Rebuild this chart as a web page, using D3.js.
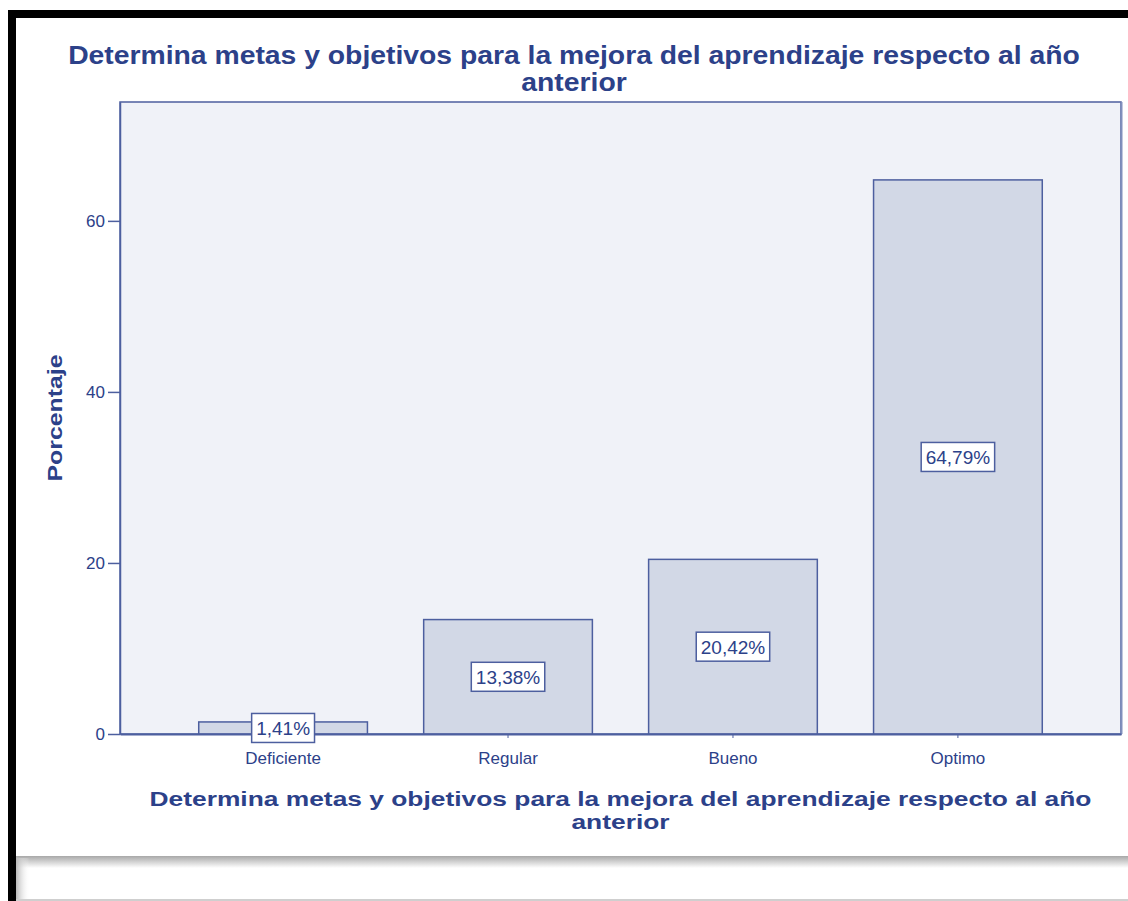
<!DOCTYPE html>
<html lang="es">
<head>
<meta charset="UTF-8">
<title>Determina metas y objetivos</title>
<script src="https://d3js.org/d3.v7.min.js"></script>
<style>
  body { margin: 0; background: #fff; }
  text { font-family: "Liberation Sans", Arial, sans-serif; }
</style>
</head>
<body>
<svg id="chart" width="1128" height="901"></svg>
<script>
  // data
  const categories = ["Deficiente", "Regular", "Bueno", "Optimo"];
  const percents = [1.41, 13.38, 20.42, 64.79];
  const yTicks = [0, 20, 40, 60];
  const titleLines = ["Determina metas y objetivos para la mejora del aprendizaje respecto al año", "anterior"];
  const yTitle = "Porcentaje";

  const svg = d3.select("#chart");
  const blue = "#2c4189";
  const lineBlue = "#4d5f9f";

  // frame: black border top/left, shadow at bottom
  const defs = svg.append("defs");
  const grad = defs.append("linearGradient").attr("id", "shadow")
    .attr("x1", 0).attr("y1", 0).attr("x2", 0).attr("y2", 1);
  grad.append("stop").attr("offset", "0%").attr("stop-color", "#a8a8a8");
  grad.append("stop").attr("offset", "100%").attr("stop-color", "#ffffff");
  const gradL = defs.append("linearGradient").attr("id", "shadowL")
    .attr("x1", 0).attr("y1", 0).attr("x2", 1).attr("y2", 0);
  gradL.append("stop").attr("offset", "0%").attr("stop-color", "#b8b8b8");
  gradL.append("stop").attr("offset", "100%").attr("stop-color", "#ffffff").attr("stop-opacity", 0);

  svg.append("rect").attr("x", 16).attr("y", 856).attr("width", 1112).attr("height", 12)
    .attr("fill", "url(#shadow)");
  svg.append("rect").attr("x", 16).attr("y", 858).attr("width", 14).attr("height", 43)
    .attr("fill", "url(#shadowL)");
  svg.append("rect").attr("x", 16).attr("y", 899).attr("width", 1112).attr("height", 2)
    .attr("fill", "#cfcfcf");
  svg.append("rect").attr("x", 8).attr("y", 10).attr("width", 1120).attr("height", 8).attr("fill", "#000");
  svg.append("rect").attr("x", 8).attr("y", 10).attr("width", 8).attr("height", 891).attr("fill", "#000");

  const margin = { top: 102, right: 7, bottom: 167, left: 120 };
  const width = 1128 - margin.left - margin.right;
  const height = 901 - margin.top - margin.bottom;

  const x = d3.scaleBand().domain(categories).range([0, width])
    .paddingInner(0.25).paddingOuter(0.35);
  const y = d3.scaleLinear().domain([0, 73.9]).range([height, 0]);

  const g = svg.append("g").attr("transform", `translate(${margin.left},${margin.top})`);

  g.append("rect").attr("width", width).attr("height", height)
    .attr("fill", "#f0f2f8").attr("stroke", lineBlue).attr("stroke-width", 1.5);
  // slightly heavier right edge like the original
  g.append("line").attr("x1", width + 0.5).attr("x2", width + 0.5).attr("y1", 0).attr("y2", height)
    .attr("stroke", "#8190bd").attr("stroke-width", 2);

  // bars
  g.selectAll("rect.bar").data(percents).join("rect")
    .attr("class", "bar")
    .attr("x", (d, i) => x(categories[i]))
    .attr("y", d => y(d))
    .attr("width", x.bandwidth())
    .attr("height", d => y(0) - y(d))
    .attr("fill", "#d2d8e6")
    .attr("stroke", lineBlue)
    .attr("stroke-width", 1.5);

  // axes
  const yAxis = g.append("g")
    .call(d3.axisLeft(y).tickValues(yTicks).tickSize(12).tickSizeOuter(0).tickPadding(3));
  yAxis.select(".domain").attr("stroke", lineBlue).attr("stroke-width", 1.5);
  yAxis.selectAll(".tick line").attr("stroke", lineBlue).attr("stroke-width", 1.5);
  yAxis.selectAll(".tick text").attr("fill", blue).style("font-size", "17px");

  const xAxis = g.append("g").attr("transform", `translate(0,${height})`)
    .call(d3.axisBottom(x).tickSize(4).tickSizeOuter(0).tickPadding(14));
  xAxis.select(".domain").attr("stroke", lineBlue).attr("stroke-width", 2);
  xAxis.selectAll(".tick line").attr("stroke", lineBlue);
  xAxis.selectAll(".tick text").attr("fill", blue).style("font-size", "17px");

  // value labels
  const fmt = d3.formatLocale({ decimal: ",", thousands: ".", grouping: [3], currency: ["", "€"] }).format(".2f");
  const labels = g.selectAll("g.lbl").data(percents).join("g")
    .attr("class", "lbl")
    .attr("transform", (d, i) => `translate(${x(categories[i]) + x.bandwidth() / 2},${y(d / 2)})`);
  labels.append("rect").attr("fill", "#fff").attr("stroke", lineBlue).attr("stroke-width", 1.5);
  labels.append("text")
    .attr("text-anchor", "middle").attr("dy", "0.36em")
    .attr("fill", blue).style("font-size", "19px")
    .text(d => fmt(d) + "%");
  labels.each(function () {
    const t = d3.select(this).select("text").node().getComputedTextLength();
    d3.select(this).select("rect")
      .attr("x", -t / 2 - 4.5).attr("y", -14.5).attr("width", t + 9).attr("height", 29);
  });

  // titles: stretch horizontally to the width seen in the original
  function twoLineTitle(cx, y0, gap, fs, targetW) {
    const wrap = svg.append("g");
    const t = wrap.append("text").attr("text-anchor", "middle")
      .attr("fill", blue).attr("font-weight", "bold").style("font-size", fs + "px");
    titleLines.forEach((l, i) => {
      t.append("tspan").attr("x", 0).attr("y", y0 + i * gap).text(l);
    });
    const w = t.select("tspan").node().getComputedTextLength();
    wrap.attr("transform", `translate(${cx},0) scale(${targetW / w},1)`);
  }
  twoLineTitle(574, 64, 27, 25, 1012);
  twoLineTitle(margin.left + width / 2, 806, 23, 21, 942);

  const yt = svg.append("g")
    .attr("transform", `translate(62,${margin.top + height / 2}) rotate(-90)`)
    .append("text")
    .attr("text-anchor", "middle")
    .attr("fill", blue).attr("font-weight", "bold").style("font-size", "21px")
    .text(yTitle);
  const yw = yt.node().getComputedTextLength();
  yt.attr("transform", `scale(${127 / yw},1)`);
</script>
</body>
</html>
